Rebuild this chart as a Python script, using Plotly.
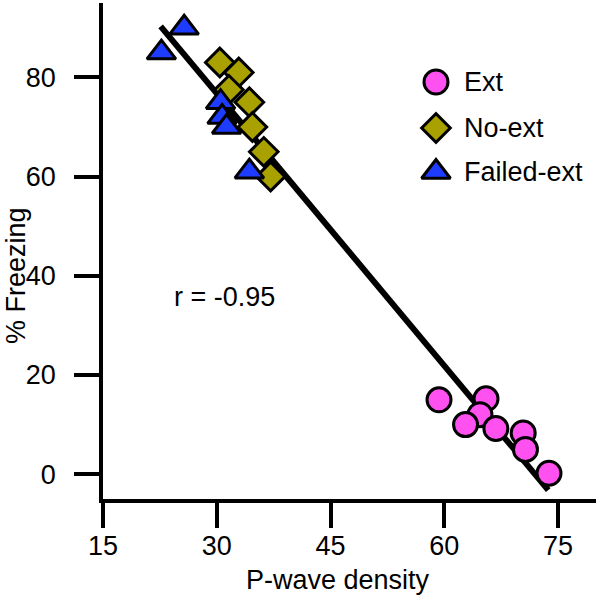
import plotly.graph_objects as go

# P-wave density vs % freezing
ext_x = [59.3, 65.5, 64.7, 62.8, 66.8, 70.4, 70.7, 73.8]
ext_y = [15.0, 15.2, 12.0, 10.0, 9.2, 8.3, 5.0, 0.2]

noext_x = [30.4, 32.9, 31.6, 34.3, 34.7, 36.2, 37.1]
noext_y = [83.0, 81.0, 77.5, 75.0, 70.0, 65.0, 60.0]

failed_x = [25.7, 22.7, 30.5, 30.7, 31.3, 34.3]
failed_y = [90.0, 85.0, 75.0, 72.0, 70.0, 61.0]

fit_x = [22.6, 73.7]
fit_y = [90.3, -3.2]

x_ticks = [15, 30, 45, 60, 75]
y_ticks = [0, 20, 40, 60, 80]

group_names = ["Ext", "No-ext", "Failed-ext"]
r_label = "r = -0.95"

PINK = "#FF50F0"
OLIVE = "#A9A100"
BLUE = "#1E3CFF"
FONT = "Liberation Sans, Arial, sans-serif"
FS = 27

styles = [
    dict(symbol="circle", color=PINK, size=24),
    dict(symbol="diamond", color=OLIVE, size=22),
    dict(symbol="triangle-up", color=BLUE, size=25),
]

fig = go.Figure()

# regression line first so markers sit on top of it
fig.add_trace(go.Scatter(x=fit_x, y=fit_y, mode="lines",
                         line=dict(color="black", width=6), showlegend=False))

# draw order: no-ext, failed, ext (triangles over diamonds as in the figure)
for xs, ys, st in [(noext_x, noext_y, styles[1]),
                   (failed_x, failed_y, styles[2]),
                   (ext_x, ext_y, styles[0])]:
    fig.add_trace(go.Scatter(
        x=xs, y=ys, mode="markers", showlegend=False,
        marker=dict(symbol=st["symbol"], size=st["size"], color=st["color"],
                    line=dict(color="black", width=3)),
    ))

# hand-made legend on an overlay axis in plot-area pixel units
leg_px = 436
leg_py = [82, 128, 172]
for st, py, name in zip(styles, leg_py, group_names):
    fig.add_trace(go.Scatter(
        x=[leg_px], y=[py], xaxis="x2", yaxis="y2", mode="markers",
        showlegend=False,
        marker=dict(symbol=st["symbol"], size=st["size"], color=st["color"],
                    line=dict(color="black", width=3)),
    ))
    fig.add_annotation(x=leg_px + 26, y=py, xref="x2", yref="y2", text=name,
                       showarrow=False, xanchor="left", yanchor="middle",
                       font=dict(size=FS, color="black", family=FONT))

fig.add_annotation(x=224, y=297, xref="x2", yref="y2", text=r_label,
                   showarrow=False, xanchor="center", yanchor="middle",
                   font=dict(size=FS, color="black", family=FONT))

# axis titles (paper coords; plot area is 102..595 x 3..499 px)
fig.add_annotation(x=(337 - 102) / 493, y=(499 - 580) / 496, xref="paper", yref="paper",
                   text="P-wave density", showarrow=False,
                   xanchor="center", yanchor="middle",
                   font=dict(size=FS, color="black", family=FONT))
fig.add_annotation(x=(15 - 102) / 493, y=(499 - 276) / 496, xref="paper", yref="paper",
                   text="% Freezing", showarrow=False, textangle=-90,
                   xanchor="center", yanchor="middle",
                   font=dict(size=FS, color="black", family=FONT))

axis_common = dict(
    showgrid=False, zeroline=False, showline=True, linecolor="black",
    linewidth=3.5, ticks="outside", ticklen=25, tickwidth=3.5,
    tickcolor="black", tickfont=dict(size=FS, color="black", family=FONT),
)

fig.update_layout(
    width=600, height=595,
    margin=dict(l=103, r=4, t=3, b=96),
    plot_bgcolor="white", paper_bgcolor="white",
    xaxis=dict(range=[15, 80], tickvals=x_ticks, ticklabelstandoff=-5, **axis_common),
    yaxis=dict(range=[-5, 95], tickvals=y_ticks, ticklabelstandoff=13, **axis_common),
    xaxis2=dict(overlaying="x", range=[103, 596], visible=False),
    yaxis2=dict(overlaying="y", range=[499, 3], visible=False),
    showlegend=False,
)

fig.write_html("out.html", config={"displayModeBar": False},
               post_script="document.body.style.margin='0';")
